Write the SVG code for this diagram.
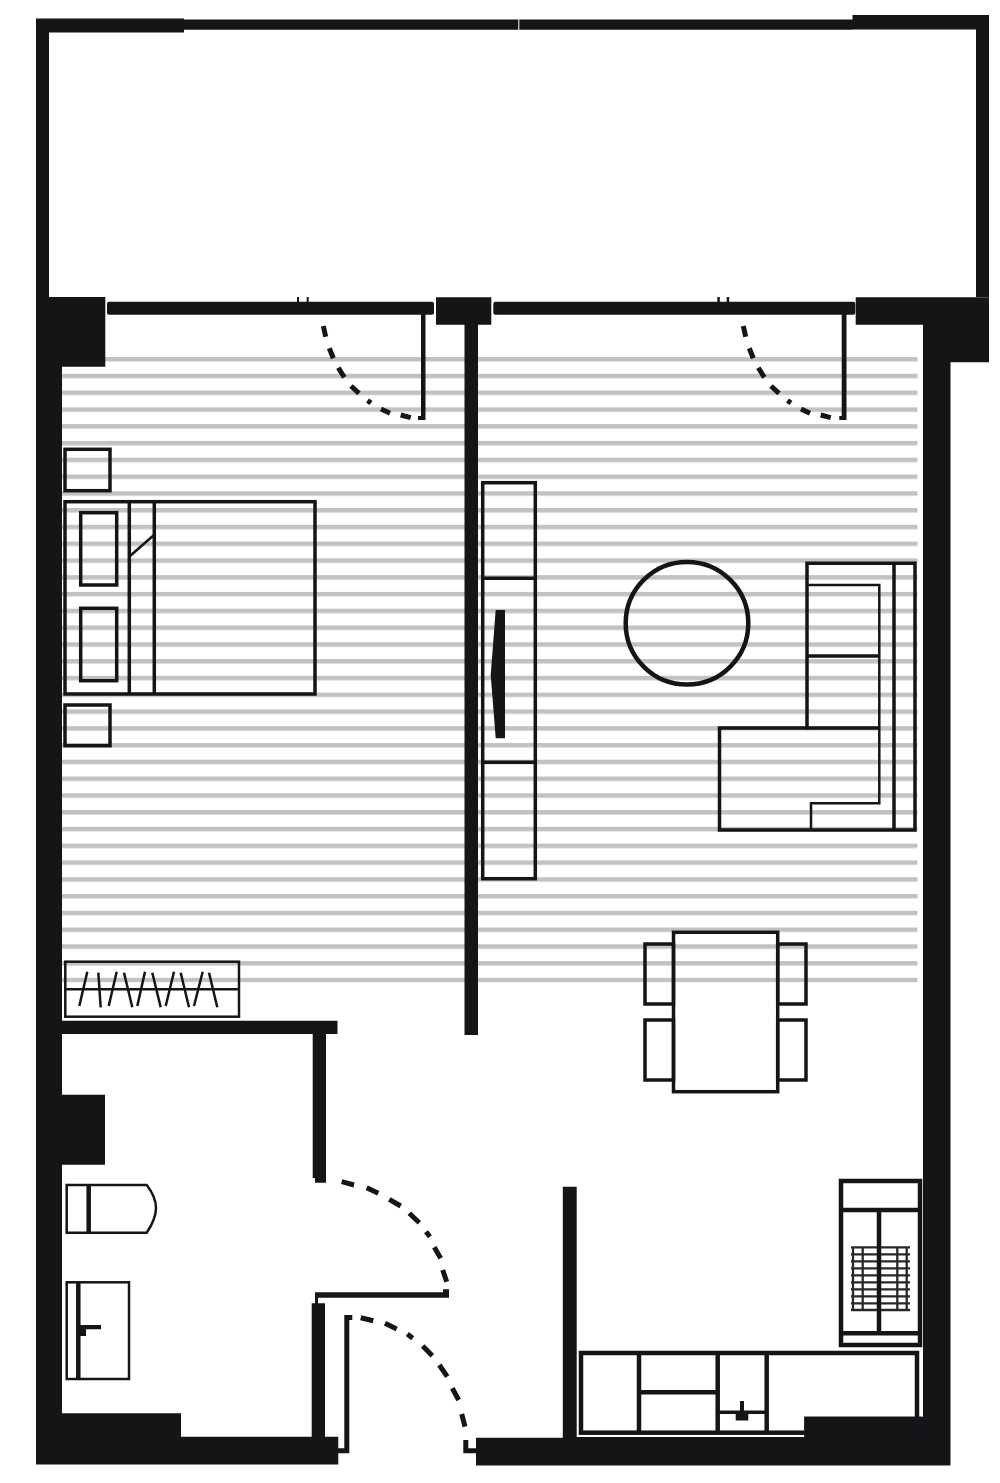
<svg xmlns="http://www.w3.org/2000/svg" width="1000" height="1483" viewBox="0 0 1000 1483">
<style>
.wall{fill:#141517;stroke:none}
.f{fill:none;stroke:#141517;stroke-width:3.5}
.t{fill:none;stroke:#141517;stroke-width:2.5}
.k{fill:none;stroke:#141517;stroke-width:4.5}
.d{fill:none;stroke:#141517;stroke-width:5}
.g{fill:none;stroke:#27282a;stroke-width:2.3}
</style>
<defs>
<pattern id="stripes" patternUnits="userSpaceOnUse" x="0" y="357" width="10" height="16.78">
<rect x="0" y="0" width="10" height="4.5" fill="#c2c2c2"/>
</pattern>
</defs>
<rect width="1000" height="1483" fill="#ffffff"/>
<rect id="floor-stripes" x="62" y="357" width="855.5" height="625.4" fill="url(#stripes)"/>

<g id="walls">
<path class="wall" d="M36 18.5H184V19.5H518.3V29.7H184V32.5H49V297H36Z"/>
<path class="wall" d="M519.3 19.5H852.5V15H989V297H976V29.5H852.5V29.7H519.3Z"/>
<path class="wall" d="M36 297H105.3V366.7H62V1020.7H337.5V1034H326V1182.7H315V1178H312.7V1034H62V1094.7H105V1164.7H62V1413.3H181V1436.7H311.7V1303.3H315V1292.3H443V1289.3H449V1297.7H318V1303.3H325V1436.7H338.3V1464.5H36Z"/>
<path class="wall" d="M436 297.3H491.3V324.7H478V1035H464.5V324.7H436Z"/>
<path class="wall" d="M855.7 297.3H989V362.3H950.5V1465.5H476V1437.7H562.8V1186.7H576.7V1437H804.3V1416.7H923V324.7H855.7Z"/>
<rect class="wall" x="107" y="301.7" width="327" height="13" rx="2"/>
<rect class="wall" x="493.3" y="301.7" width="362" height="13" rx="2"/>
<path class="wall" d="M297 297H299V302H297ZM306.7 297H308.7V302H306.7ZM717.3 297H719.8V302H717.3ZM726.7 297H729.2V302H726.7Z"/>
</g>

<g id="doors">
<path class="wall" d="M421 314H425.5V420H418V416H421Z"/>
<path class="d" d="M323.3 326L325.7 336.7M329.3 348.3L333.3 358.3M338.3 367.7L344.3 377.3M351 386L359 393.3M367.5 400.5L371 403M381 409L390 413.3M400.7 415L410.7 417.7"/>
<path class="wall" d="M841.7 314H846.5V420H839.3V416H841.7Z"/>
<path class="d" d="M743.3 326L745.7 336.7M749.3 348.3L753.3 358.3M758.3 367.7L764.3 377.3M771 386L779 393.3M787.5 400.5L791 403M801 409L810 413.3M820.7 415L830.7 417.7"/>
<path class="d" d="M341.7 1181.7L354 1185M366.7 1187.7L378.3 1193.3M389.3 1199.3L400.7 1206M409.3 1213.3L419.3 1222.7M426 1231.7L430 1236.7M434.3 1247.3L440.7 1258.3M442.7 1270L446.7 1281.7"/>
<path class="wall" d="M344.3 1315H352.3V1320H349.3V1453.3H338V1448.3H344.3Z"/>
<path class="d" d="M360.7 1317.7L373.3 1320.7M385 1323.3L396.7 1329M407.3 1334L412.7 1338.3M422.7 1346L432.3 1355.7M439.3 1365L447.3 1376.7M452.3 1388.3L458.7 1400M461.7 1414L465 1426.7"/>
<path class="wall" d="M463.3 1440H468.3V1448.3H476V1453.3H463.3Z"/>
</g>

<g id="bed">
<rect class="f" x="65" y="501.7" width="250" height="192.3"/>
<path class="f" d="M129.3 501.7V694M154.3 501.7V694"/>
<path class="t" d="M130 556L154 535"/>
<rect class="f" x="80.7" y="512.7" width="36" height="72.3"/>
<rect class="f" x="80.7" y="608.3" width="36" height="72.4"/>
</g>
<g id="nightstands">
<rect class="f" x="65" y="449.3" width="45" height="41.4"/>
<rect class="f" x="65" y="705" width="45" height="40.7"/>
</g>
<g id="wardrobe">
<rect class="t" x="65.3" y="961.7" width="173.7" height="55"/>
<path class="t" d="M65.3 989.3H239M87.3 971.7L79.3 1006M98.3 972.7L100.7 1007.3M116.7 971.7L108.7 1006M124 972.7L132.3 1007.3M145 971.7L137.3 1006M152.3 972.7L160.7 1007.3M174 971.7L165.7 1006M180.7 972.7L189 1007.3M202.7 971.7L194 1006M209 972.7L217.3 1007.3"/>
</g>
<g id="tv-unit">
<rect class="f" x="482.7" y="482.7" width="52.6" height="396"/>
<path class="f" d="M482.7 578.3H535.3M482.7 762.3H535.3"/>
<path class="wall" d="M495.7 610H505V738.3H495.7L490.7 675Z"/>
</g>
<g id="round-table">
<circle cx="687" cy="623.3" r="61.3" fill="none" stroke="#141517" stroke-width="4.5"/>
</g>
<g id="sofa">
<path class="f" d="M807 563.3H915V830H719.5V728H807Z"/>
<path class="f" d="M894 563.3V830M807 728H879"/>
<path class="t" d="M807 585H879.3V803.3H811V830"/>
<path class="f" d="M807 656H879"/>
</g>
<g id="dining">
<rect class="f" x="645" y="944" width="28.5" height="60"/>
<rect class="f" x="645" y="1020" width="28.5" height="60"/>
<rect class="f" x="777.7" y="944" width="28.3" height="60"/>
<rect class="f" x="777.7" y="1020" width="28.3" height="60"/>
<rect class="f" x="673.5" y="932.3" width="104.2" height="159.4"/>
</g>
<g id="fridge">
<path class="g" d="M851 1247.3H910M851 1254.3H910M851 1261.3H910M851 1268.3H910M851 1275.3H910M851 1282.3H910M851 1289.3H910M851 1296.3H910M851 1303.3H910M851 1310H910M853 1247V1310M862.7 1247V1310M897.3 1247V1310M906.7 1247V1310"/>
<rect class="k" x="841" y="1181" width="79" height="164"/>
<path class="k" d="M841 1210H920M841 1333.3H920M879 1210V1333.3"/>
</g>
<g id="kitchen">
<rect class="k" x="581" y="1353" width="336" height="79.7"/>
<path class="k" d="M639 1353V1432.7M717.7 1353V1432.7M766.7 1353V1432.7M639 1392.3H717.7"/>
<path class="f" d="M717.7 1412.3H766.7"/>
<path class="wall" d="M740 1401H744V1412H748.3V1420.5H735.7V1412H740Z"/>
<rect class="wall" x="804.3" y="1416.7" width="118" height="20"/>
</g>
<g id="toilet">
<path class="t" d="M66.7 1185H146.7Q156 1197 156 1208Q156 1219 146.7 1232.7H66.7Z"/>
<path class="k" d="M88.7 1185V1232.7"/>
</g>
<g id="basin">
<rect class="t" x="66.7" y="1282.3" width="62.3" height="96.7"/>
<path class="k" d="M78.3 1282.3V1379"/>
<path class="wall" d="M78 1325H101V1329.3H86V1336H78Z"/>
</g>
</svg>
